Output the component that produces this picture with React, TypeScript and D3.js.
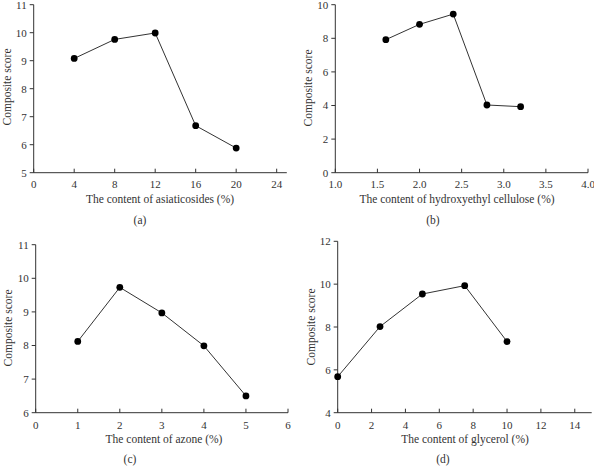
import React from "react";
import * as d3 from "d3";

const asiaX = [4, 8, 12, 16, 20];
const asiaY = [9.08, 9.76, 9.99, 6.68, 5.88];
const asiaXTicks = [0, 4, 8, 12, 16, 20, 24];
const asiaYTicks = [5, 6, 7, 8, 9, 10, 11];

const hecX = [1.6, 2.0, 2.4, 2.8, 3.2];
const hecY = [7.92, 8.83, 9.44, 4.03, 3.93];
const hecXTicks = [1.0, 1.5, 2.0, 2.5, 3.0, 3.5, 4.0];
const hecYTicks = [0, 2, 4, 6, 8, 10];

const azoneX = [1, 2, 3, 4, 5];
const azoneY = [8.12, 9.73, 8.97, 7.99, 6.5];
const azoneXTicks = [0, 1, 2, 3, 4, 5, 6];
const azoneYTicks = [6, 7, 8, 9, 10, 11];

const glyX = [0, 2.5, 5, 7.5, 10];
const glyY = [5.68, 8.02, 9.54, 9.93, 7.32];
const glyXTicks = [0, 2, 4, 6, 8, 10, 12, 14];
const glyYTicks = [4, 6, 8, 10, 12];

const FONT = "'Liberation Serif', 'Times New Roman', serif";
const INK = "#333";

type PanelProps = {
  xs: number[]; ys: number[];
  xDomain: [number, number]; yDomain: [number, number];
  xRange: [number, number]; yRange: [number, number];
  xTicks: number[]; yTicks: number[]; xFmt: (v: number) => string;
  xLabel: string; tag: string;
  xLabelPos: [number, number]; tagPos: [number, number]; yLabelPos: [number, number];
  tickBase: number;
};

function Panel(p: PanelProps) {
  const x = d3.scaleLinear().domain(p.xDomain).range(p.xRange);
  const y = d3.scaleLinear().domain(p.yDomain).range(p.yRange);
  const pts = p.xs.map((v, i) => [x(v), y(p.ys[i])] as [number, number]);
  const line = d3.line()(pts) || "";
  const y0 = p.yRange[0];
  const x0 = p.xRange[0];
  return (
    <g>
      <line x1={x0} x2={p.xRange[1]} y1={y0} y2={y0} stroke={INK} strokeWidth={1} />
      <line x1={x0} x2={x0} y1={y0} y2={p.yRange[1]} stroke={INK} strokeWidth={1} />
      {p.xTicks.map((t) => (
        <g key={"x" + t}>
          <line x1={x(t)} x2={x(t)} y1={y0} y2={y0 - 4} stroke={INK} strokeWidth={1} />
          <text x={x(t)} y={p.tickBase} textAnchor="middle" fontSize={11} fontFamily={FONT} fill={INK}>{p.xFmt(t)}</text>
        </g>
      ))}
      {p.yTicks.map((t) => (
        <g key={"y" + t}>
          <line x1={x0 - 4} x2={x0} y1={y(t)} y2={y(t)} stroke={INK} strokeWidth={1} />
          <text x={x0 - 7} y={y(t)} dy="0.35em" textAnchor="end" fontSize={11} fontFamily={FONT} fill={INK}>{t}</text>
        </g>
      ))}
      <path d={line} fill="none" stroke={INK} strokeWidth={1} />
      {pts.map((pt, i) => (
        <circle key={i} cx={pt[0]} cy={pt[1]} r={3.4} fill="#000" />
      ))}
      <text x={p.xLabelPos[0]} y={p.xLabelPos[1]} textAnchor="middle" fontSize={11.5} fontFamily={FONT} fill={INK}>{p.xLabel}</text>
      <text x={p.tagPos[0]} y={p.tagPos[1]} textAnchor="middle" fontSize={11.5} fontFamily={FONT} fill={INK}>{p.tag}</text>
      <text transform={`translate(${p.yLabelPos[0]},${p.yLabelPos[1]}) rotate(-90)`} textAnchor="middle" fontSize={11.5} fontFamily={FONT} fill={INK}>Composite score</text>
    </g>
  );
}

export default function App() {
  const f0 = (v: number) => String(v);
  const f1 = (v: number) => v.toFixed(1);
  return (
    <svg width={594} height={466} style={{ position: "absolute", left: 0, top: 0, background: "#fff" }}>
      <Panel xs={asiaX} ys={asiaY} xDomain={[0, 25]} yDomain={[5, 11]}
        xRange={[33.7, 286.8]} yRange={[172.7, 4.7]} xTicks={asiaXTicks} yTicks={asiaYTicks} xFmt={f0}
        xLabel="The content of asiaticosides (%)" tag="(a)" tickBase={188}
        xLabelPos={[160, 203]} tagPos={[140, 224]} yLabelPos={[11, 87]} />
      <Panel xs={hecX} ys={hecY} xDomain={[1, 4]} yDomain={[0, 10]}
        xRange={[335.3, 588]} yRange={[172.7, 4.7]} xTicks={hecXTicks} yTicks={hecYTicks} xFmt={f1}
        xLabel="The content of hydroxyethyl cellulose (%)" tag="(b)" tickBase={188}
        xLabelPos={[457, 203]} tagPos={[433, 224]} yLabelPos={[312, 88]} />
      <Panel xs={azoneX} ys={azoneY} xDomain={[0, 6]} yDomain={[6, 11]}
        xRange={[35.7, 288]} yRange={[412.7, 244.7]} xTicks={azoneXTicks} yTicks={azoneYTicks} xFmt={f0}
        xLabel="The content of azone (%)" tag="(c)" tickBase={429}
        xLabelPos={[164, 443]} tagPos={[130, 463]} yLabelPos={[12, 328]} />
      <Panel xs={glyX} ys={glyY} xDomain={[0, 15]} yDomain={[4, 12]}
        xRange={[337.7, 591.7]} yRange={[412.7, 241.3]} xTicks={glyXTicks} yTicks={glyYTicks} xFmt={f0}
        xLabel="The content of glycerol (%)" tag="(d)" tickBase={429}
        xLabelPos={[465, 443]} tagPos={[443, 463]} yLabelPos={[315, 327]} />
    </svg>
  );
}
